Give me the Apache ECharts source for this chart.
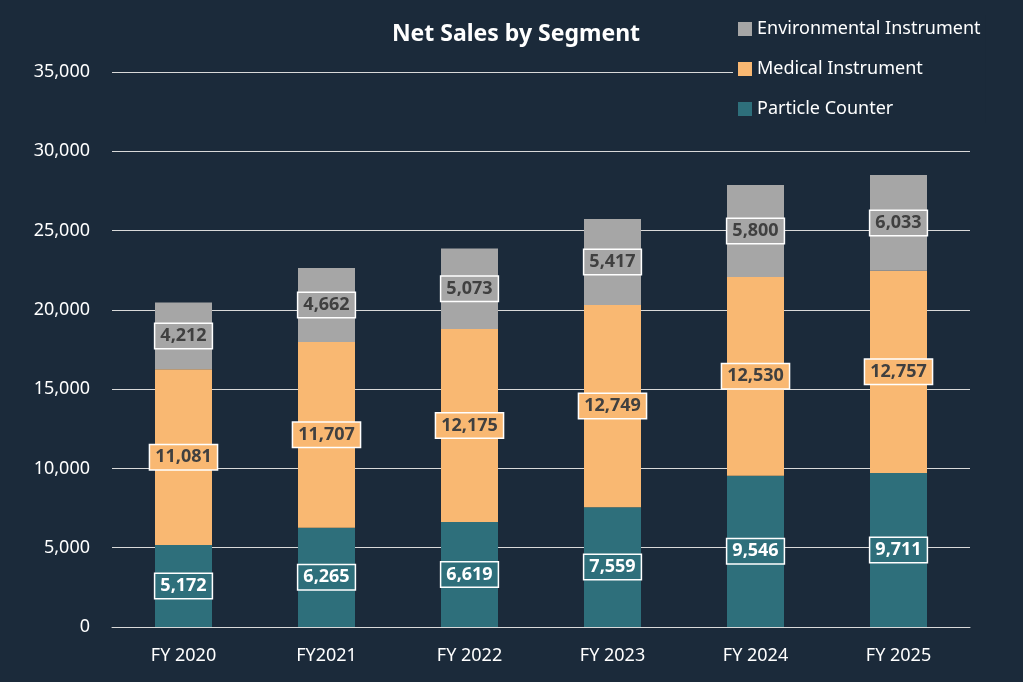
<!DOCTYPE html>
<html>
<head>
<meta charset="utf-8">
<title>Net Sales by Segment</title>
<script src="https://cdn.jsdelivr.net/npm/echarts@6/dist/echarts.min.js"></script>
<style>
html,body{margin:0;padding:0;background:#1b2a3a;}
#chart{width:1023px;height:682px;}
</style>
</head>
<body>
<div id="chart"></div>
<script>
var categories = ['FY 2020', 'FY2021', 'FY 2022', 'FY 2023', 'FY 2024', 'FY 2025'];
var particle = [5172, 6265, 6619, 7559, 9546, 9711];
var medical = [11081, 11707, 12175, 12749, 12530, 12757];
var environmental = [4212, 4662, 5073, 5417, 5800, 6033];

var myChart = echarts.init(document.getElementById('chart'));

function lbl(bg, color) {
    return {
        show: true,
        position: 'inside',
        backgroundColor: bg,
        borderColor: '#ffffff',
        borderWidth: 1.5,
        padding: [4, 5, 2, 5],
        color: color,
        fontSize: 18,
        fontWeight: 'bold',
        fontFamily: 'Noto Sans',
        formatter: function (p) { return p.value.toLocaleString('en-US'); }
    };
}

var option = {
    backgroundColor: '#1b2a3a',
    textStyle: { fontFamily: 'Noto Sans' },
    title: {
        text: 'Net Sales by Segment',
        left: 511, top: 18, textAlign: 'center',
        textStyle: { color: '#ffffff', fontSize: 23, fontWeight: 'bold', fontFamily: 'Noto Sans' }
    },
    legend: {
        orient: 'vertical',
        left: 733, top: 15,
        itemWidth: 14, itemHeight: 14, itemGap: 22,
        icon: 'rect',
        backgroundColor: '#1b2a3a',
        padding: [5, 5, 5, 5],
        data: ['Environmental Instrument', 'Medical Instrument', 'Particle Counter'],
        textStyle: { color: '#ffffff', fontSize: 18 }
    },
    grid: { left: 112, right: 53, top: 72, bottom: 55 },
    xAxis: {
        type: 'category',
        data: categories,
        axisLine: { lineStyle: { color: '#d9d9d9' } },
        axisTick: { show: false },
        axisLabel: { color: '#ffffff', fontSize: 18, margin: 20 }
    },
    yAxis: {
        type: 'value',
        min: 0, max: 35000, interval: 5000,
        axisLine: { show: false },
        axisTick: { show: false },
        splitLine: { lineStyle: { color: '#d9d9d9', width: 1 } },
        axisLabel: {
            color: '#ffffff', fontSize: 18, margin: 22,
            formatter: function (v) { return v.toLocaleString('en-US'); }
        }
    },
    series: [
        { name: 'Particle Counter', type: 'bar', stack: 's', barWidth: 57, data: particle,
          itemStyle: { color: '#2e6f7b' }, label: lbl('#2e6f7b', '#ffffff'), z: 3 },
        { name: 'Medical Instrument', type: 'bar', stack: 's', data: medical,
          itemStyle: { color: '#f9b872' }, label: lbl('#f9b872', '#404040'), z: 3 },
        { name: 'Environmental Instrument', type: 'bar', stack: 's', data: environmental,
          itemStyle: { color: '#a6a6a6' }, label: lbl('#a6a6a6', '#404040'), z: 3 }
    ]
};
myChart.setOption(option);
</script>
</body>
</html>
